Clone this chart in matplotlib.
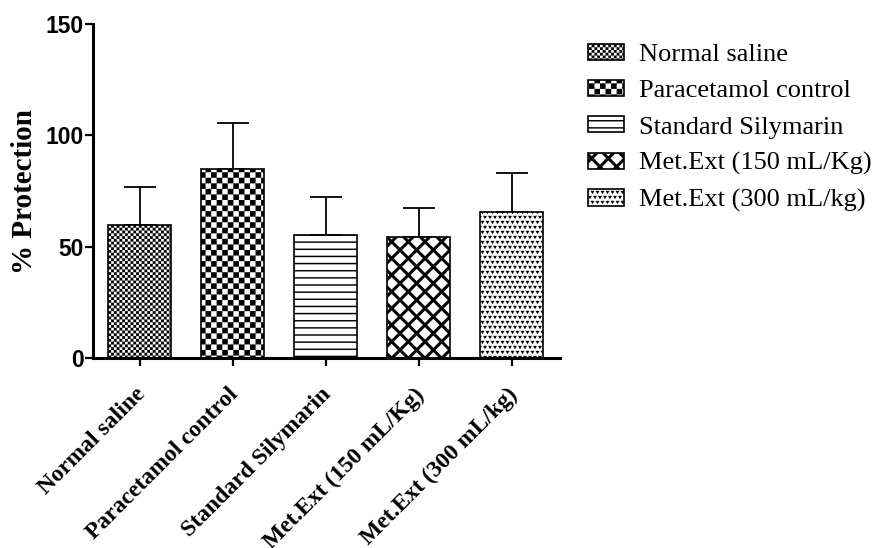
import warnings
import numpy as np
import matplotlib
matplotlib.use('Agg')
import matplotlib.pyplot as plt
import matplotlib.hatch as mhatch
from matplotlib.path import Path
from matplotlib.transforms import ScaledTranslation

warnings.filterwarnings('ignore')

groups = ["Normal saline", "Paracetamol control", "Standard Silymarin",
          "Met.Ext (150 mL/Kg)", "Met.Ext (300 mL/kg)"]
protection = [59.6, 84.7, 55.2, 54.3, 65.5]
protection_sd = [17.1, 20.7, 17.0, 13.0, 17.5]
yticks = [0, 50, 100, 150]


# custom fill patterns built from small filled polygons (one hatch "cell" = 1 inch)
class ShapeHatch(mhatch.HatchPatternBase):
    char = None

    def __init__(self, hatch, density):
        self.polys = self.make() if (hatch and self.char in hatch) else []
        self.num_vertices = sum(len(p) + 1 for p in self.polys)

    def make(self):
        return []

    def set_vertices_and_codes(self, vertices, codes):
        i = 0
        for p in self.polys:
            k = len(p)
            vertices[i:i + k] = p
            vertices[i + k] = p[0]
            codes[i] = Path.MOVETO
            codes[i + 1:i + k] = Path.LINETO
            codes[i + k] = Path.CLOSEPOLY
            i += k + 1


def checker(n):
    s = 1.0 / n
    out = []
    for i in range(n):
        for j in range(n):
            if (i + j) % 2 == 0:
                x, y = i * s, j * s
                out.append([(x, y), (x + s, y), (x + s, y + s), (x, y + s)])
    return out


class FineChecker(ShapeHatch):
    char = 'c'
    def make(self):
        return checker(36)


class CoarseChecker(ShapeHatch):
    char = 'C'
    def make(self):
        return checker(18)


class HLines(ShapeHatch):
    char = 'h'
    def make(self):
        n, t = 14, 0.014
        return [[(-0.1, k / n), (1.1, k / n), (1.1, k / n + t), (-0.1, k / n + t)]
                for k in range(n)]


class Diamonds(ShapeHatch):
    # white diamonds on a black face -> thick cross hatch
    char = 'd'
    def make(self):
        p = 1.0 / 6
        r = p / 2 - 0.022
        out = []
        for i in range(-1, 8):
            for j in range(-1, 8):
                for cx, cy in ((i * p, j * p + p / 2), (i * p + p / 2, j * p)):
                    out.append([(cx - r, cy), (cx, cy - r), (cx + r, cy), (cx, cy + r)])
        return out


class Speckle(ShapeHatch):
    char = 'v'
    def make(self):
        n = 20
        s = 1.0 / n
        out = []
        for j in range(n):
            off = s / 2 if j % 2 else 0.0
            for i in range(-1, n + 1):
                cx, cy = i * s + off, j * s + s / 2
                out.append([(cx - 0.38 * s, cy + 0.32 * s), (cx + 0.38 * s, cy + 0.32 * s),
                            (cx, cy - 0.32 * s)])
        return out


mhatch._hatch_types.extend([FineChecker, CoarseChecker, HLines, Diamonds, Speckle])

plt.rcParams['hatch.linewidth'] = 0.05

serif = 'Liberation Serif'
sans = 'Liberation Sans'

fig = plt.figure(figsize=(8.76, 5.48), dpi=100)
ax = fig.add_axes([0.1062, 0.3467, 0.533, 0.6095])

styles = [('c', 'white', 'black'), ('C', 'white', 'black'), ('h', 'white', 'black'),
          ('d', 'black', 'white'), ('v', 'white', 'black')]

x = np.arange(len(groups))
for i, g in enumerate(groups):
    h, face, hcol = styles[i]
    b = ax.bar(x[i], protection[i], 0.68, color=face, edgecolor='black',
               linewidth=1.2, hatch=h, label=g)
    for p in b.patches:
        p._hatch_color = matplotlib.colors.to_rgba(hcol)

ax.errorbar(x, protection, yerr=[np.zeros(len(x)), protection_sd], fmt='none',
            ecolor='black', elinewidth=1.3, capsize=11.5, capthick=1.3, zorder=0.5)

ax.set_xlim(-0.5, 4.52)
ax.set_ylim(0, 150)
ax.set_yticks(yticks)
ax.set_yticklabels([str(t) for t in yticks], fontfamily=sans, fontweight='bold', fontsize=16.5)
ax.set_xticks(x)
ax.set_xticklabels(groups, rotation=45, ha='right', va='top', rotation_mode='anchor',
                   fontfamily=serif, fontweight='bold', fontsize=17)
ax.tick_params(axis='both', direction='out', length=6, width=1.6)
ax.tick_params(axis='y', pad=0.8)
ax.tick_params(axis='x', pad=2)
shift = ScaledTranslation(-0.05, -0.15, fig.dpi_scale_trans)
for lab in ax.get_xticklabels():
    lab.set_transform(lab.get_transform() + shift)

for s in ['top', 'right']:
    ax.spines[s].set_visible(False)
for s in ['left', 'bottom']:
    ax.spines[s].set_linewidth(2.2)

ax.set_ylabel('% Protection', fontfamily=serif, fontweight='bold', fontsize=21)
ax.yaxis.set_label_coords(-0.118, 0.5)

leg = fig.legend(loc='upper left', bbox_to_anchor=(0.671, 0.92), frameon=False,
                 prop={'family': serif, 'size': 19}, handlelength=1.36,
                 handleheight=0.57, handletextpad=0.57, labelspacing=0.52,
                 borderpad=0, borderaxespad=0)

fig.savefig('out.png', dpi=100)
